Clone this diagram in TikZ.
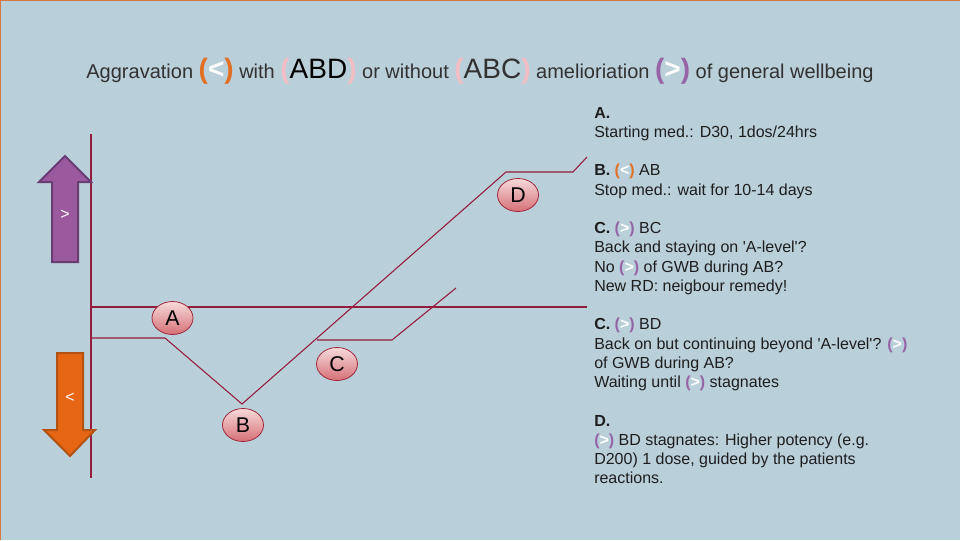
\documentclass[tikz,border=0pt]{standalone}
\usepackage{fontspec}
\setmainfont{Liberation Sans}
\usetikzlibrary{shapes.geometric}
\definecolor{bg}{RGB}{185,207,218}
\definecolor{frameor}{RGB}{214,120,60}
\definecolor{linec}{RGB}{150,28,62}
\definecolor{orP}{RGB}{226,112,36}
\definecolor{puP}{RGB}{150,100,165}
\definecolor{piP}{RGB}{240,190,195}
\definecolor{txt}{RGB}{30,30,30}
\definecolor{ttl}{RGB}{50,50,50}
\definecolor{purA}{RGB}{155,90,158}
\definecolor{purB}{RGB}{105,60,115}
\definecolor{orA}{RGB}{230,102,22}
\definecolor{orB}{RGB}{180,82,15}
\definecolor{elTop}{RGB}{246,218,218}
\definecolor{elBot}{RGB}{214,112,118}
\definecolor{elBd}{RGB}{160,40,60}
\newcommand{\bigpar}[2]{{\fontsize{21}{24}\selectfont\textcolor{#1}{\textbf{(}}#2\textcolor{#1}{\textbf{)}}}}
\newcommand{\lt}{\textcolor{orP}{\textbf{(}}\textcolor{white}{\textbf{<}}\textcolor{orP}{\textbf{)}}}
\newcommand{\gt}{\textcolor{puP}{\textbf{(}}\textcolor{white}{\textbf{>}}\textcolor{puP}{\textbf{)}}}
\newcommand{\sq}{\textquotesingle}
\tikzset{
  chart/.style={draw=linec, line width=0.8pt},
  stage/.style={ellipse, draw=elBd, line width=0.6pt, top color=elTop, bottom color=elBot,
    minimum width=41*0.75pt, minimum height=33*0.75pt, inner sep=0pt,
    font=\fontsize{16}{18}\selectfont, text=black},
  rt/.style={anchor=base west, inner sep=0pt, text=txt, font=\fontsize{12}{14}\selectfont},
  arrowtxt/.style={text=white, font=\fontsize{12}{13}\selectfont, inner sep=0pt}
}
\begin{document}
\begin{tikzpicture}[x=0.75pt, y=-0.75pt]
\useasboundingbox (0,0) rectangle (960,540);
\fill[bg] (0,0) rectangle (960,540);
\draw[frameor, line width=1.5pt] (0,540) -- (0,0) -- (960,0);

% title
\node[anchor=base, inner sep=0pt, text=ttl, font=\fontsize{15}{18}\selectfont] (title) at (480,78)
 {Aggravation \bigpar{orP}{\textcolor{white}{\textbf{<}}} with \bigpar{piP}{\textcolor{black}{ABD}} or without \bigpar{piP}{\textcolor{ttl}{ABC}} amelioriation \bigpar{puP}{\textcolor{white}{\textbf{>}}} of general wellbeing};

% axis and chart lines
\coordinate (ax1) at (91,134);
\coordinate (ax2) at (91,478);
\coordinate (al1) at (92,307);
\coordinate (al2) at (587,307);
\coordinate (p0) at (92,338);
\coordinate (p1) at (165,338);
\coordinate (pB) at (242,404);
\coordinate (pD) at (506,172);
\coordinate (pD2) at (573,172);
\coordinate (pD3) at (587,157);
\coordinate (pC) at (317,340);
\coordinate (pC2) at (392,340);
\coordinate (pC3) at (456,288);
\draw[chart] (ax1) -- (ax2);
\draw[chart] (al1) -- (al2);
\draw[chart] (p0) -- (p1) -- (pB) -- (pD) -- (pD2) -- (pD3);
\draw[chart] (pC) -- (pC2) -- (pC3);

% stage ellipses
\node[stage] (A) at (172.5,318) {A};
\node[stage] (B) at (243,425) {B};
\node[stage] (C) at (337,364) {C};
\node[stage] (D) at (518,195) {D};

% block arrows
\filldraw[fill=purA, draw=purB, line width=1.5pt, line join=miter]
  (65,156) -- (91,182) -- (78,182) -- (78,262) -- (52,262) -- (52,182) -- (39,182) -- cycle;
\node[arrowtxt] (gtlab) at (65,215) {>};
\filldraw[fill=orA, draw=orB, line width=1.5pt, line join=miter]
  (70,456) -- (95,430) -- (83,430) -- (83,353) -- (57,353) -- (57,430) -- (44,430) -- cycle;
\node[arrowtxt] (ltlab) at (70,398) {<};

% right text
\node[rt] (t0) at (594,118) {\textbf{A.}};
\node[rt] (t1) at (594,137.25) {Starting med.: D30, 1dos/24hrs};
\node[rt] (t3) at (594,175.75) {\textbf{B.} \lt{} AB};
\node[rt] (t4) at (594,195) {Stop med.: wait for 10-14 days};
\node[rt] (t6) at (594,233.5) {\textbf{C.} \gt{} BC};
\node[rt] (t7) at (594,252.75) {Back and staying on \sq A-level\sq?};
\node[rt] (t8) at (594,272) {No \gt{} of GWB during AB?};
\node[rt] (t9) at (594,291.25) {New RD: neigbour remedy!};
\node[rt] (t11) at (594,329.75) {\textbf{C.} \gt{} BD};
\node[rt] (t12) at (594,349) {Back on but continuing beyond \sq A-level\sq? \gt};
\node[rt] (t13) at (594,368.25) {of GWB during AB?};
\node[rt] (t14) at (594,387.5) {Waiting until \gt{} stagnates};
\node[rt] (t16) at (594,426) {\textbf{D.}};
\node[rt] (t17) at (594,445.25) {\gt{} BD stagnates: Higher potency (e.g.};
\node[rt] (t18) at (594,464.5) {D200) 1 dose, guided by the patients};
\node[rt] (t19) at (594,483.75) {reactions.};
\end{tikzpicture}
\end{document}
